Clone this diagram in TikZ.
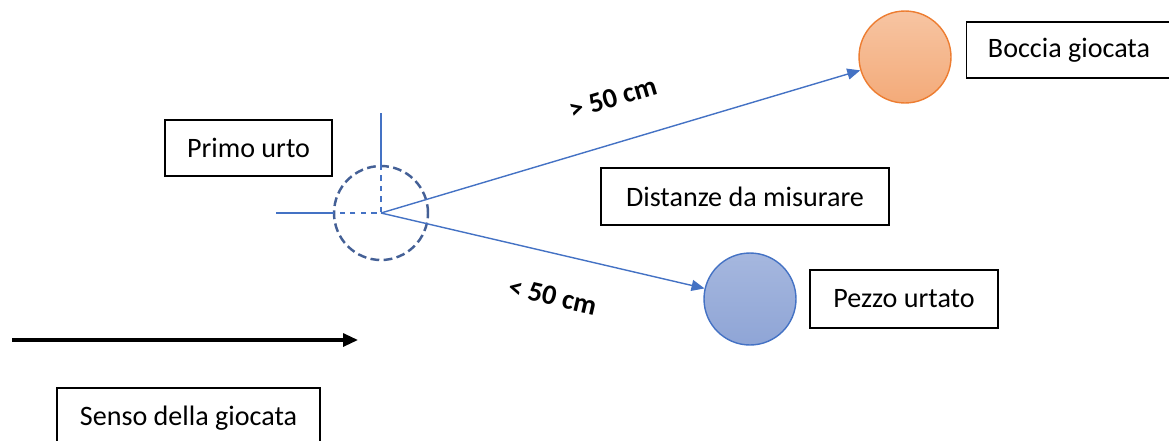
\documentclass[tikz,border=0pt]{standalone}
\usepackage{fontspec}
\setmainfont{Carlito}
\definecolor{LineBlue}   {RGB}{68, 114, 196}
\definecolor{DashBlue}   {RGB}{68,  96, 150}
\definecolor{BallOrange} {RGB}{237, 125, 49}
\definecolor{BallBlue}   {RGB}{143, 165, 214}
\usetikzlibrary{arrows.meta, positioning}

\begin{document}
\begin{tikzpicture}[
  x=0.02cm, y=-0.02cm,
  font=\fontsize{16}{18}\selectfont,
  label/.style={
    draw, thick, fill=white,
    inner sep=0pt,
    align=center
  },
  ball/.style={
    circle, minimum size=1.84cm,
    inner sep=0pt, thick
  },
  dist/.style={
    -{Triangle[length=2.6mm, width=2.2mm]},
    line width=0.8pt, color=LineBlue
  },
  cross/.style={
    line width=0.8pt, color=LineBlue
  },
  measure/.style={
    text=black,
    font=\fontsize{16}{18}\selectfont\bfseries
  }
]
\useasboundingbox (0,0) rectangle (1169,440);

% boxes
\node[label, minimum width=3.34cm, minimum height=1.12cm]
  (primo) at (248.5,148) {Primo urto};
\node[label, minimum width=5.76cm, minimum height=1.14cm]
  (distanze) at (745,196.5) {Distanze da misurare};
\node[label, minimum width=4.1cm, minimum height=1.12cm]
  (boccia) at (1069,50) {Boccia giocata};
\node[label, minimum width=3.76cm, minimum height=1.16cm]
  (pezzo) at (904,299) {Pezzo urtato};
\node[label, minimum width=5.26cm, minimum height=1.2cm]
  (senso) at (188.5,418) {Senso della giocata};

% balls
\node[ball, draw=BallOrange, top color=BallOrange!45,
  bottom color=BallOrange!65] (giocata) at (905,57) {};
\node[ball, draw=LineBlue, top color=BallBlue!80,
  bottom color=BallBlue] (urtato) at (750,299) {};

% first impact
\coordinate (impatto) at (381,213);
\coordinate (crossN) at (381,113);
\coordinate (crossW) at (276,213);
\node[circle, draw=DashBlue, line width=1.4pt,
  dash pattern=on 5pt off 2.5pt,
  minimum size=1.88cm, inner sep=0pt] (zona) at (impatto) {};
\draw[cross] (crossN) -- (zona.north);
\draw[cross] (crossW) -- (zona.west);
\draw[cross, dashed] (zona.north) -- (impatto) -- (zona.west);

% distances
\draw[dist] (impatto) -- (giocata)
  node[measure, pos=0.51, above=16pt, sloped] {> 50 cm};
\draw[dist] (impatto) -- (urtato)
  node[measure, pos=0.56, below=15pt, sloped] {< 50 cm};

% direction of play
\coordinate (sensoA) at (12,340);
\coordinate (sensoB) at (358,340);
\draw[-{Triangle[length=3mm, width=2.6mm]}, line width=1.8pt]
  (sensoA) -- (sensoB);

\end{tikzpicture}
\end{document}
